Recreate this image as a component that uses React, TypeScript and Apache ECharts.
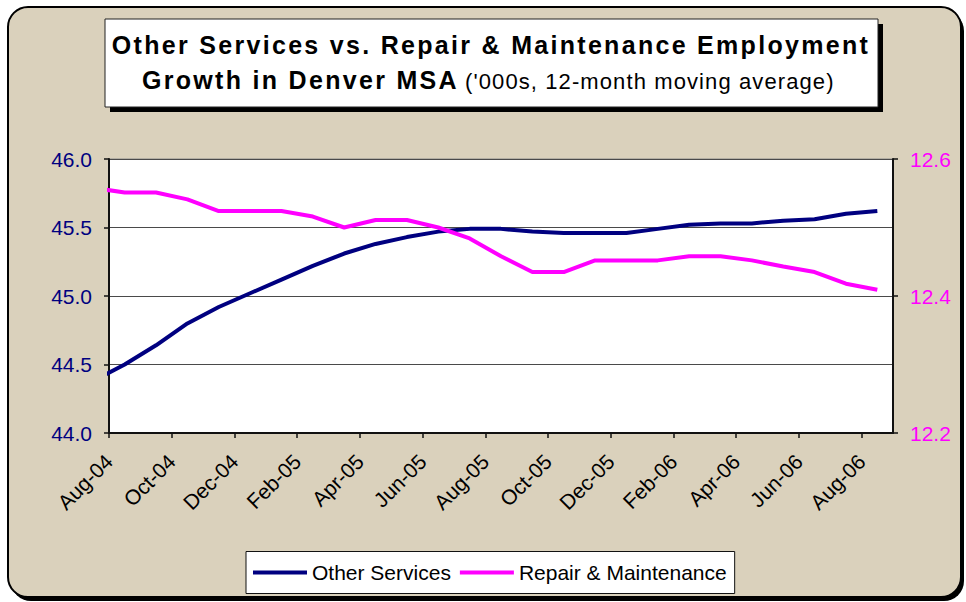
import React, { useEffect, useRef } from 'react';
import * as echarts from 'echarts';

// ---- data ----
const months = [
  'Aug-04', 'Sep-04', 'Oct-04', 'Nov-04', 'Dec-04', 'Jan-05', 'Feb-05', 'Mar-05', 'Apr-05',
  'May-05', 'Jun-05', 'Jul-05', 'Aug-05', 'Sep-05', 'Oct-05', 'Nov-05', 'Dec-05', 'Jan-06',
  'Feb-06', 'Mar-06', 'Apr-06', 'May-06', 'Jun-06', 'Jul-06', 'Aug-06',
];
// value of the month before the first shown category (only its segment into the plot is visible)
const leadOtherServices = 44.38;
const leadRepair = 12.558;
const otherServices = [
  44.5, 44.64, 44.8, 44.92, 45.02, 45.12, 45.22, 45.31, 45.38, 45.43, 45.47, 45.49, 45.49,
  45.47, 45.46, 45.46, 45.46, 45.49, 45.52, 45.53, 45.53, 45.55, 45.56, 45.6, 45.62,
];
const repairMaintenance = [
  12.551, 12.551, 12.541, 12.524, 12.524, 12.524, 12.516, 12.5, 12.511, 12.511, 12.5, 12.484,
  12.458, 12.435, 12.435, 12.452, 12.452, 12.452, 12.458, 12.458, 12.452, 12.443, 12.435,
  12.418, 12.409,
];
const leftAxis = { min: 44, max: 46, interval: 0.5 };
const rightAxis = { min: 12.2, max: 12.6, interval: 0.2 };
const monthStep = 2; // a tick and a label every second month
const seriesNames = ['Other Services', 'Repair & Maintenance'];
const titleLine1 = 'Other Services vs. Repair & Maintenance Employment';
const titleLine2Bold = 'Growth in Denver MSA';
const titleLine2Normal = "('000s, 12-month moving average)";

const FONT = '"Liberation Sans", Arial, Helvetica, sans-serif';
const NAVY = '#000080';
const PINK = '#FF00FF';
const BEIGE = '#dad1bc';

export default function App() {
  const ref = useRef<HTMLDivElement>(null);

  useEffect(() => {
    if (!ref.current) return;
    const chart = echarts.init(ref.current, undefined, { renderer: 'svg' });

    // each month sits in the middle of its band: band i spans [i, i+1]
    const toPairs = (lead: number, vals: number[]) =>
      [[-0.5, lead] as [number, number]].concat(vals.map((v, i) => [i + 0.5, v] as [number, number]));

    const option: any = {
      animation: false,
      backgroundColor: 'transparent',
      textStyle: { fontFamily: FONT },
      graphic: [
        {
          type: 'rect', z: -10, silent: true,
          shape: { x: 11, y: 11, width: 953, height: 590, r: 20 },
          style: { fill: '#000' },
        },
        {
          type: 'rect', z: -9, silent: true,
          shape: { x: 8, y: 7, width: 953, height: 590, r: 20 },
          style: { fill: BEIGE, stroke: '#000', lineWidth: 2 },
        },
        {
          type: 'rect', z: 10, silent: true,
          shape: { x: 110, y: 24, width: 773, height: 88 },
          style: { fill: '#000' },
        },
        {
          type: 'rect', z: 11, silent: true,
          shape: { x: 105, y: 19, width: 773, height: 88 },
          style: { fill: '#fff', stroke: '#222', lineWidth: 1 },
        },
        {
          type: 'text', z: 12, silent: true, x: 491, y: 45,
          style: {
            text: titleLine1, fill: '#000', fontSize: 25, fontWeight: 'bold', fontFamily: FONT,
            align: 'center', verticalAlign: 'middle', textAlign: 'center', textVerticalAlign: 'middle',
          },
        },
        {
          type: 'text', z: 12, silent: true, x: 142, y: 80,
          style: {
            text: titleLine2Bold, fill: '#000', fontSize: 25, fontWeight: 'bold', fontFamily: FONT,
            align: 'left', verticalAlign: 'middle', textAlign: 'left', textVerticalAlign: 'middle',
          },
        },
        {
          type: 'text', z: 12, silent: true, x: 465, y: 81,
          style: {
            text: titleLine2Normal, fill: '#000', fontSize: 22, fontFamily: FONT,
            align: 'left', verticalAlign: 'middle', textAlign: 'left', textVerticalAlign: 'middle',
          },
        },
      ],
      grid: {
        left: 109, top: 159, right: 73, bottom: 169,
        show: true, backgroundColor: '#fff', borderColor: '#8a8a8a', borderWidth: 1,
      },
      legend: {
        left: 246, top: 551.5,
        data: seriesNames,
        icon: 'rect', itemWidth: 54, itemHeight: 4, itemGap: 9,
        backgroundColor: '#fff', borderColor: '#111', borderWidth: 1,
        padding: [9, 8, 9, 7],
        textStyle: { fontSize: 21, color: '#000', fontFamily: FONT, lineHeight: 24 },
      },
      xAxis: [
        {
          type: 'value', min: 0, max: months.length, interval: monthStep, position: 'bottom',
          axisLine: { show: true, onZero: false, lineStyle: { color: '#111', width: 2 } },
          axisTick: { show: true, length: 5, lineStyle: { color: '#111', width: 1.5 } },
          axisLabel: {
            rotate: 45, fontSize: 21, color: '#000', margin: 25, fontFamily: FONT,
            showMaxLabel: false,
            formatter: (v: number) => (Number.isInteger(v) && months[v] ? months[v] : ''),
          },
          splitLine: { show: false },
        },
      ],
      yAxis: [
        {
          type: 'value', position: 'left', min: leftAxis.min, max: leftAxis.max, interval: leftAxis.interval,
          axisLine: { show: true, onZero: false, lineStyle: { color: '#111', width: 2 } },
          axisTick: { show: true, length: 5, lineStyle: { color: '#111', width: 1.5 } },
          axisLabel: {
            formatter: (v: number) => v.toFixed(1), color: NAVY, fontSize: 21, margin: 17, fontFamily: FONT,
          },
          splitLine: { show: true, lineStyle: { color: '#4a4a4a', width: 1 } },
        },
        {
          type: 'value', position: 'right', min: rightAxis.min, max: rightAxis.max, interval: rightAxis.interval,
          axisLine: { show: true, onZero: false, lineStyle: { color: '#111', width: 2 } },
          axisTick: { show: true, length: 5, lineStyle: { color: '#111', width: 1.5 } },
          axisLabel: {
            formatter: (v: number) => v.toFixed(1), color: PINK, fontSize: 21, margin: 17, fontFamily: FONT,
          },
          splitLine: { show: false },
        },
      ],
      series: [
        {
          name: seriesNames[0], type: 'line', xAxisIndex: 0, yAxisIndex: 0,
          data: toPairs(leadOtherServices, otherServices),
          showSymbol: false, symbol: 'none', clip: true, z: 3,
          lineStyle: { color: NAVY, width: 4 }, itemStyle: { color: NAVY },
        },
        {
          name: seriesNames[1], type: 'line', xAxisIndex: 0, yAxisIndex: 1,
          data: toPairs(leadRepair, repairMaintenance),
          showSymbol: false, symbol: 'none', clip: true, z: 4,
          lineStyle: { color: PINK, width: 4 }, itemStyle: { color: PINK },
        },
      ],
    };

    chart.setOption(option);
    return () => chart.dispose();
  }, []);

  return (
    <>
      <style>{`
        #chart-root text[style*="bold"] { letter-spacing: 2.3px; }
        #chart-root text[style*="22px"] { letter-spacing: 1.1px; }
      `}</style>
      <div
        id="chart-root"
        ref={ref}
        style={{ position: 'fixed', left: 0, top: 0, width: 966, height: 602, background: '#fff' }}
      />
    </>
  );
}
